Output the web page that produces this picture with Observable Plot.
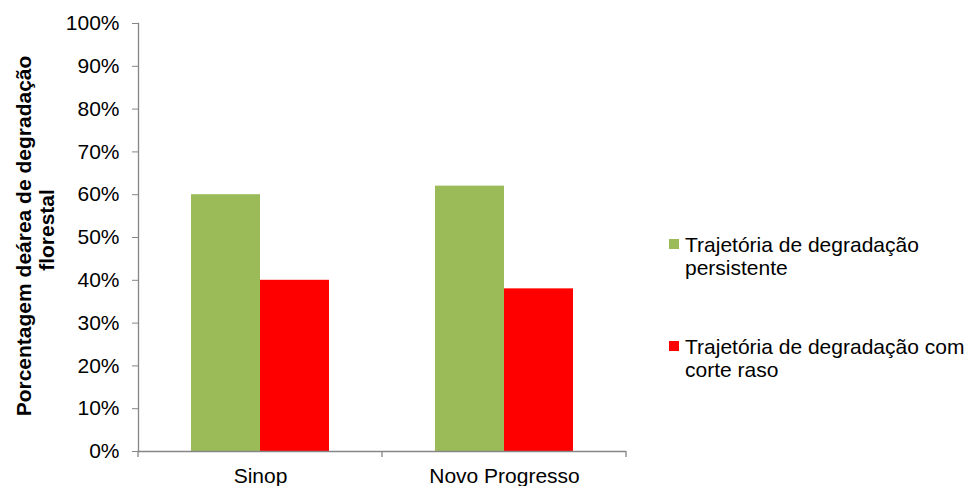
<!DOCTYPE html>
<html>
<head>
<meta charset="utf-8">
<script src="https://cdn.jsdelivr.net/npm/d3@7"></script>
<script src="https://cdn.jsdelivr.net/npm/@observablehq/plot@0.6"></script>
<style>
  body { margin: 0; background: #fff; font-family: "Liberation Sans", Arial, sans-serif; }
  #chart { width: 971px; height: 486px; }
</style>
</head>
<body>
<div id="chart"></div>
<script>
// ---- data ----
const categories = ["Sinop", "Novo Progresso"];
const series = ["Trajetória de degradação persistente", "Trajetória de degradação com corte raso"];
const persistente = [60, 62];
const corteRaso = [40, 38];
const seriesValues = [persistente, corteRaso];
const colors = ["#9BBB59", "#FF0000"];
const yTicks = [0, 10, 20, 30, 40, 50, 60, 70, 80, 90, 100];
const yTitleLines = ["Porcentagem deárea de degradação", "florestal"];
const legendLines = [["Trajetória de degradação", "persistente"], ["Trajetória de degradação com", "corte raso"]];

const rows = categories.flatMap((c, i) => series.map((s, j) => ({category: c, series: s, value: seriesValues[j][i]})));

const gray = "#868686";
const chart = Plot.plot({
  width: 971,
  height: 486,
  marginLeft: 138,
  marginRight: 345,
  marginTop: 23,
  marginBottom: 35,
  style: {fontFamily: "'Liberation Sans', Arial, sans-serif", fontSize: "21px", background: "#fff", color: "#000"},
  fx: {domain: categories, padding: 0, label: null},
  x: {domain: series, paddingInner: 0, paddingOuter: 0.768, axis: null},
  y: {domain: [0, 100]},
  color: {domain: series, range: colors},
  marks: [
    Plot.barY(rows, {fx: "category", x: "series", y: "value", fill: "series"}),
    Plot.ruleY([0], {stroke: gray, strokeWidth: 1.3}),
    Plot.frame({anchor: "left", facetAnchor: "left", stroke: gray, strokeWidth: 1.3}),
    Plot.axisY({ticks: yTicks, tickFormat: d => d + "%", tickSize: 6, tickPadding: 13, stroke: gray, fill: "#000", label: null, fontSize: 21}),
    Plot.axisFx({anchor: "bottom", tickSize: 0, tickPadding: 17, label: null, fill: "#000", fontSize: 21})
  ]
});
document.getElementById("chart").appendChild(chart);

// category boundary ticks, from the library's scales
const fx = chart.scale("fx");
const y = chart.scale("y");
const svg = d3.select(chart);
const bounds = categories.map(c => fx.apply(c));
bounds.push(fx.apply(categories[categories.length - 1]) + fx.bandwidth);
const y0 = y.apply(0);
svg.append("g").selectAll("line").data(bounds).join("line")
  .attr("x1", d => d).attr("x2", d => d)
  .attr("y1", y0).attr("y2", y0 + 6)
  .attr("stroke", gray).attr("stroke-width", 1.3);

// y title (two lines, rotated)
const titleCenters = [236, 230];
const titleX = [31, 54];
svg.append("g").selectAll("text").data(yTitleLines).join("text")
  .attr("transform", (d, i) => `translate(${titleX[i]},${titleCenters[i]}) rotate(-90)`)
  .attr("text-anchor", "middle")
  .attr("font-weight", "bold")
  .attr("font-size", 21)
  .attr("fill", "#000")
  .text(d => d);

// legend
const legendTop = [239, 341];
const lg = svg.append("g").attr("text-anchor", "start");
legendLines.forEach((lines, i) => {
  lg.append("rect").attr("x", 669).attr("y", legendTop[i]).attr("width", 10).attr("height", 10).attr("fill", colors[i]);
  const t = lg.append("text").attr("x", 685).attr("y", legendTop[i] + 13).attr("font-size", 21).attr("fill", "#000").attr("text-anchor", "start");
  lines.forEach((l, k) => t.append("tspan").attr("x", 685).attr("dy", k === 0 ? 0 : 23).text(l));
});
</script>
</body>
</html>
